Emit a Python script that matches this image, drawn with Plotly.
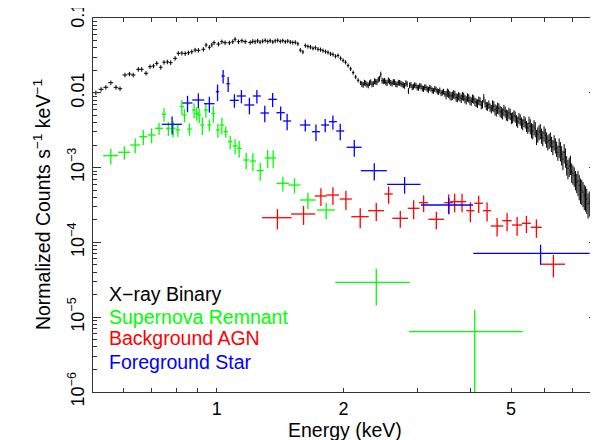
import numpy as np
import plotly.graph_objects as go

# X-ray Binary (black): bin centres in keV and normalized counts s^-1 keV^-1
xrb_energy = [
    0.516, 0.531, 0.545, 0.560, 0.576, 0.589, 0.605, 0.620, 0.633, 0.651,
    0.663, 0.679, 0.694, 0.707, 0.720, 0.736, 0.749, 0.763, 0.777, 0.796,
    0.810, 0.826, 0.841, 0.856, 0.872, 0.888, 0.904, 0.929, 0.943, 0.960,
    0.973, 0.985, 1.009, 1.028, 1.046, 1.071, 1.091, 1.105, 1.126, 1.147,
    1.168,
    1.200, 1.217, 1.233, 1.250, 1.267, 1.285, 1.303, 1.321, 1.339, 1.358,
    1.376, 1.395, 1.415, 1.434, 1.454, 1.474, 1.495, 1.515, 1.536, 1.558,
    1.579, 1.601, 1.623, 1.646, 1.669, 1.692, 1.715, 1.739, 1.763, 1.787,
    1.812, 1.837, 1.863, 1.888, 1.914, 1.941, 1.968, 1.995, 2.022, 2.050,
    2.079, 2.108, 2.137, 2.166, 2.196, 2.227, 2.258, 2.289, 2.321, 2.353,
    2.385, 2.418, 2.452, 2.486, 2.520, 2.555, 2.590, 2.626, 2.662, 2.699,
    2.737, 2.774, 2.813, 2.852, 2.891, 2.931, 2.972, 3.013, 3.055, 3.097,
    3.140, 3.183, 3.227, 3.272, 3.317, 3.363, 3.410, 3.457, 3.505, 3.553,
    3.602, 3.652, 3.703, 3.754, 3.806, 3.858, 3.912, 3.966, 4.021, 4.076,
    4.133, 4.190, 4.248, 4.307, 4.367, 4.427, 4.488, 4.550, 4.613, 4.677,
    4.742, 4.808, 4.874, 4.942, 5.010, 5.079, 5.150, 5.221, 5.293, 5.366,
    5.441, 5.516, 5.592, 5.669, 5.748, 5.827, 5.908, 5.989, 6.072, 6.156,
    6.241, 6.328, 6.415, 6.504, 6.594, 6.685, 6.778, 6.871, 6.966, 7.063,
    7.160, 7.259, 7.360, 7.462, 7.565, 7.669, 7.775, 7.883, 7.992,
]
xrb_counts = [
    0.01003, 0.01114, 0.01184, 0.01365, 0.01184, 0.01135, 0.01730, 0.01783, 0.01730, 0.0206,
    0.0206, 0.01824, 0.02234, 0.02281, 0.02477, 0.02191, 0.02559, 0.0259, 0.0253, 0.02890,
    0.03373, 0.0339, 0.0335, 0.03437, 0.03541, 0.03733, 0.0370, 0.03819, 0.04356, 0.04057,
    0.0436, 0.04677, 0.04488, 0.04819, 0.0468, 0.0466, 0.0482, 0.05188, 0.0482, 0.04977,
    0.0482,
    0.0470, 0.0488, 0.0481, 0.0495, 0.0476, 0.0490, 0.0502, 0.0485, 0.0497, 0.0479,
    0.0494, 0.0503, 0.0486, 0.0499, 0.0481, 0.0492, 0.0478, 0.0470, 0.0473, 0.0452,
    0.0372, 0.0352, 0.0428, 0.0416, 0.0409, 0.0394, 0.0401, 0.0383, 0.0378, 0.0366,
    0.0356, 0.0347, 0.0331, 0.0326, 0.0308, 0.0315, 0.0289, 0.0271, 0.0256, 0.0232,
    0.0209, 0.0186, 0.0163, 0.0147, 0.0136, 0.0128, 0.0134, 0.0126, 0.0139, 0.0132,
    0.0141, 0.0150, 0.0176, 0.0143, 0.0138, 0.0147, 0.0136, 0.0140, 0.0131, 0.0137,
    0.0133, 0.0127, 0.0135, 0.0106, 0.0128, 0.0121, 0.0125, 0.0117, 0.0122, 0.0113,
    0.0118, 0.0110, 0.0114, 0.0106, 0.0111, 0.0103, 0.0099, 0.0104, 0.0094, 0.0098,
    0.0090, 0.0096, 0.0087, 0.0091, 0.0084, 0.0089, 0.0080, 0.0085, 0.0077, 0.0082,
    0.0074, 0.0079, 0.0069, 0.0085, 0.0067, 0.0070, 0.0061, 0.0066, 0.0058, 0.0062,
    0.0055, 0.0059, 0.0051, 0.0054, 0.0046, 0.0050, 0.0043, 0.0046, 0.0040, 0.0042,
    0.0036, 0.0039, 0.0032, 0.0035, 0.0026, 0.0030, 0.0027, 0.0029, 0.0024, 0.0023,
    0.0021, 0.0022, 0.0018, 0.0019, 0.0015, 0.0016, 0.00110, 0.00105, 0.00088, 0.00078,
    0.00064, 0.00058, 0.00050, 0.00043, 0.00038, 0.00035, 0.00030, 0.00026, 0.00027,
]
# extra black bins between the ones above, where the spectrum is a dense band (2.2-8 keV)
xrb_energy_fine = [
    2.211, 2.242, 2.273, 2.305, 2.337, 2.369, 2.401, 2.435, 2.469, 2.503,
    2.537, 2.572, 2.608, 2.644, 2.680, 2.718, 2.755, 2.793, 2.832, 2.871,
    2.911, 2.951, 2.992, 3.034, 3.076, 3.118, 3.161, 3.205, 3.249, 3.294,
    3.340, 3.386, 3.433, 3.481, 3.529, 3.577, 3.627, 3.677, 3.728, 3.780,
    3.832, 3.885, 3.939, 3.993, 4.048, 4.104, 4.161, 4.219, 4.277, 4.337,
    4.397, 4.457, 4.519, 4.581, 4.645, 4.709, 4.775, 4.841, 4.908, 4.976,
    5.044, 5.114, 5.185, 5.257, 5.329, 5.403, 5.478, 5.554, 5.630, 5.708,
    5.787, 5.867, 5.948, 6.030, 6.114, 6.198, 6.284, 6.371, 6.459, 6.549,
    6.639, 6.731, 6.824, 6.918, 7.014, 7.111, 7.209, 7.309, 7.411, 7.513,
    7.617, 7.722, 7.829, 7.937,
]
xrb_counts_fine = [
    0.0131, 0.0137, 0.0129, 0.0135, 0.0130, 0.0143, 0.0139, 0.0155, 0.0146, 0.0145,
    0.0135, 0.0142, 0.0133, 0.0139, 0.0129, 0.0136, 0.0130, 0.0124, 0.0131, 0.0126,
    0.0119, 0.0127, 0.0118, 0.0124, 0.0115, 0.0119, 0.0112, 0.0117, 0.0108, 0.0113,
    0.0105, 0.0108, 0.0101, 0.0097, 0.0101, 0.0093, 0.0092, 0.0094, 0.0086, 0.0088,
    0.0091, 0.0083, 0.0087, 0.0079, 0.0084, 0.0076, 0.0072, 0.0077, 0.0071, 0.0073,
    0.0066, 0.0064, 0.0068, 0.0060, 0.0063, 0.0057, 0.0053, 0.0056, 0.0050, 0.0052,
    0.0047, 0.0048, 0.0041, 0.0044, 0.0038, 0.0040, 0.0034, 0.0036, 0.0031, 0.0033,
    0.0028, 0.0031, 0.0025, 0.0027, 0.0022, 0.0024, 0.0019, 0.0020, 0.0016, 0.0017,
    0.0013, 0.0014, 0.00098, 0.00112, 0.00083, 0.00070, 0.00066, 0.00052, 0.00047, 0.00041,
    0.00033, 0.00034, 0.00025, 0.00029,
]
# fractional error of the black spectrum, by energy band (upper edge keV, fraction)
xrb_err_bands = [(1.25, 0.07), (2.2, 0.065), (3.5, 0.09), (4.5, 0.13),
                 (5.5, 0.17), (6.5, 0.23), (7.2, 0.29), (8.1, 0.37)]

# Supernova Remnant (green)
snr_energy = [0.560, 0.603, 0.640, 0.669, 0.700, 0.729, 0.749, 0.767, 0.788, 0.808,
              0.826, 0.838, 0.861, 0.883, 0.896, 0.908, 0.924, 0.942, 0.960, 0.981,
              1.006, 1.028, 1.050, 1.076, 1.105, 1.130, 1.174, 1.218, 1.268, 1.321,
              1.361, 1.435, 1.529, 1.646, 1.819, 2.392, 4.098]
snr_energy_err = [0.0230, 0.0198, 0.0175, 0.0147, 0.0153, 0.0160, 0.0094, 0.0097, 0.0099, 0.0102,
                  0.0104, 0.0092, 0.0108, 0.0097, 0.0098, 0.0099, 0.0101, 0.0103, 0.0105, 0.0107,
                  0.0110, 0.0113, 0.0132, 0.0135, 0.0151, 0.0155, 0.0193, 0.0200, 0.0243, 0.0217,
                  0.0224, 0.0495, 0.0502, 0.0721, 0.0896, 0.480, 1.236]
snr_counts = [0.001443, 0.001603, 0.002004, 0.002589, 0.002729, 0.003352, 0.005158, 0.003352, 0.003352, 0.003186,
              0.006516, 0.005047, 0.003281, 0.005888, 0.005321, 0.005047, 0.003715, 0.005888, 0.003715, 0.005321,
              0.003186, 0.003715, 0.003020, 0.002219, 0.001945, 0.001812, 0.001264, 0.001225, 0.000914, 0.001343,
              0.001343, 0.000617, 0.000585, 0.000369, 0.000271, 2.93e-5, 6.4e-6]
snr_counts_err = [0.000339, 0.000327, 0.000453, 0.000585, 0.000617, 0.000610, 0.00105, 0.000714, 0.000804, 0.000605,
                  0.00147, 0.00103, 0.000623, 0.00133, 0.00109, 0.00114, 0.000984, 0.00120, 0.000658, 0.00133,
                  0.000679, 0.000929, 0.000535, 0.000453, 0.000440, 0.000453, 0.000316, 0.000331, 0.000247, 0.000363,
                  0.000363, 0.000139, 0.000132, 9.23e-5, 6.78e-5, 1.5e-5, 6.1e-6]

# Background AGN (red)
agn_energy = [1.393, 1.607, 1.767, 1.887, 2.026, 2.191, 2.392, 2.559, 2.728, 2.935,
              3.099, 3.322, 3.553, 3.672, 3.824, 4.002, 4.188, 4.385, 4.632, 4.892,
              5.168, 5.438, 5.743, 6.303]
agn_energy_err = [0.1121, 0.1056, 0.0580, 0.0651, 0.0666, 0.1044, 0.1048, 0.0588, 0.1165, 0.0932,
                  0.0764, 0.1419, 0.0836, 0.0864, 0.0900, 0.0876, 0.0986, 0.0960, 0.1598, 0.1259,
                  0.1415, 0.1340, 0.1729, 0.4141]
agn_counts = [0.0002139, 0.0002397, 0.0004173, 0.0004302, 0.0003803, 0.0002206, 0.0002654, 0.0004437, 0.0002100, 0.0002857,
              0.0003395, 0.0002036, 0.0003395, 0.0003501, 0.0003501, 0.0002654, 0.0003333, 0.0002654, 0.0001657, 0.0001951,
              0.0001708, 0.0001800, 0.0001591, 0.0000511]
agn_counts_err = [6.42e-5, 6.83e-5, 1.106e-4, 1.140e-4, 1.084e-4, 6.62e-5, 7.17e-5, 1.154e-4, 5.25e-5, 8.14e-5,
                  8.49e-5, 5.40e-5, 9.85e-5, 9.80e-5, 9.80e-5, 7.96e-5, 8.67e-5, 7.56e-5, 4.56e-5, 5.37e-5,
                  4.78e-5, 4.68e-5, 4.38e-5, 1.69e-5]

# Foreground Star (blue)
star_energy = [0.783, 0.852, 0.904, 0.960, 1.004, 1.035, 1.064, 1.101, 1.144, 1.195,
               1.245, 1.300, 1.357, 1.418, 1.469, 1.622, 1.720, 1.809, 1.887, 1.964,
               2.121, 2.366, 2.793, 3.558, 5.876]
star_energy_err = [0.0429, 0.0233, 0.0297, 0.0279, 0.0093, 0.0096, 0.0099, 0.0271, 0.0282, 0.0327,
                   0.0273, 0.0306, 0.0312, 0.0326, 0.0322, 0.0471, 0.0377, 0.0396, 0.0413, 0.0430,
                   0.0871, 0.168, 0.255, 0.503, 1.81]
star_counts = [0.003793, 0.007305, 0.008011, 0.007150, 0.01034, 0.01678, 0.01323, 0.007937, 0.009063, 0.006869,
               0.009063, 0.005369, 0.008185, 0.005420, 0.004198, 0.003711, 0.003020, 0.003711, 0.004108, 0.003086,
               0.001868, 0.000909, 0.000598, 0.000316, 7.15e-5]
star_counts_err = [0.00102, 0.00183, 0.00181, 0.00172, 0.00259, 0.00342, 0.00299, 0.00162, 0.00185, 0.00172,
                   0.00185, 0.00134, 0.00174, 0.00115, 0.00105, 0.000675, 0.000755, 0.000742, 0.000875, 0.000772,
                   0.000467, 0.000236, 0.000150, 7.90e-5, 2.15e-5]

legend_names = ['X−ray Binary', 'Supernova Remnant', 'Background AGN', 'Foreground Star']
legend_colours = ['#000000', '#00ff00', '#ff0000', '#0000ff']

FONT = 'Liberation Sans, Arial, Helvetica, sans-serif'
AXIS_COLOUR = '#333333'


def band_error(energy, counts):
    # errore frazionario letto per bande di energia
    out = []
    for e, c in zip(energy, counts):
        frac = next(f for edge, f in xrb_err_bands if e <= edge)
        out.append(c * frac)
    return out


def add_spectrum(fig, energy, energy_err, counts, counts_err, colour, thickness):
    # solo barre d'errore (croci), marker invisibili
    fig.add_trace(go.Scatter(
        x=energy, y=counts, mode='markers',
        marker=dict(size=2, color=colour, opacity=0),
        error_x=dict(type='data', array=energy_err, symmetric=True,
                     width=0, thickness=thickness, color=colour),
        error_y=dict(type='data', array=counts_err, symmetric=True,
                     width=0, thickness=thickness, color=colour),
        showlegend=False, hoverinfo='skip'))


fig = go.Figure()

# unione dei bin neri e ordinamento per energia
xrb_e = np.array(xrb_energy + xrb_energy_fine)
xrb_c = np.array(xrb_counts + xrb_counts_fine)
order = np.argsort(xrb_e)
xrb_e, xrb_c = xrb_e[order], xrb_c[order]
xrb_e_err = np.gradient(xrb_e) / 2

add_spectrum(fig, xrb_e, xrb_e_err, xrb_c, band_error(xrb_e, xrb_c), legend_colours[0], 1)
add_spectrum(fig, snr_energy, snr_energy_err, snr_counts, snr_counts_err, legend_colours[1], 1.3)
add_spectrum(fig, agn_energy, agn_energy_err, agn_counts, agn_counts_err, legend_colours[2], 1.3)
add_spectrum(fig, star_energy, star_energy_err, star_counts, star_counts_err, legend_colours[3], 1.3)

x_range = [np.log10(0.508), np.log10(8.0)]
y_major = [1e-6, 1e-5, 1e-4, 1e-3, 0.01, 0.1]
y_labels = ['10<sup>−6</sup>', '10<sup>−5</sup>', '10<sup>−4</sup>', '10<sup>−3</sup>', '0.01', '0.1']
y_minor = [k * 10.0 ** p for p in range(-6, -1) for k in range(2, 10)]

# la pagina ha un margine di 8 px: figura più piccola e margini compensati
fig.update_layout(
    template='none',
    width=590, height=432,
    margin=dict(l=85, r=1, t=10, b=48, autoexpand=False),
    paper_bgcolor='white', plot_bgcolor='white',
    font=dict(family=FONT, size=18, color='black'),
    showlegend=False,
    xaxis=dict(
        type='log', range=x_range, automargin=False,
        tickvals=[1, 2, 5], ticktext=['1', '2', '5'],
        ticks='inside', ticklen=4, tickwidth=1, tickcolor=AXIS_COLOUR,
        minor=dict(tickvals=[0.6, 0.7, 0.8, 0.9, 3, 4, 6, 7], ticks='inside',
                   ticklen=4, tickwidth=1, tickcolor=AXIS_COLOUR, showgrid=False),
        showline=True, linecolor=AXIS_COLOUR, linewidth=1, mirror='allticks',
        showgrid=False, zeroline=False, tickfont=dict(size=18),
    ),
    # asse sovrapposto solo per il tick lungo a 1 keV
    xaxis2=dict(
        type='log', range=x_range, overlaying='x', anchor='y', side='bottom', automargin=False,
        tickvals=[1], ticks='inside', ticklen=8, tickwidth=1, tickcolor=AXIS_COLOUR,
        showticklabels=False, showline=False, mirror='ticks', showgrid=False, zeroline=False,
    ),
    yaxis=dict(
        type='log', range=[-6, -1], automargin=False,
        tickvals=y_major, ticktext=y_labels, tickangle=-90,
        ticklabelstandoff=1, ticklabeloverflow='allow',
        ticks='inside', ticklen=8, tickwidth=1, tickcolor=AXIS_COLOUR,
        minor=dict(tickvals=y_minor, ticks='inside', ticklen=4, tickwidth=1,
                   tickcolor=AXIS_COLOUR, showgrid=False),
        showline=True, linecolor=AXIS_COLOUR, linewidth=1, mirror='allticks',
        showgrid=False, zeroline=False, tickfont=dict(size=18),
    ),
)

# titoli degli assi
fig.add_annotation(text='Normalized Counts s<sup>−1</sup> keV<sup>−1</sup>', textangle=-90,
                   xref='paper', yref='paper', x=-0.101, y=0.5,
                   xanchor='center', yanchor='middle', showarrow=False, font=dict(size=19.5))
fig.add_annotation(text='Energy (keV)', xref='paper', yref='paper', x=0.5, y=-0.1016,
                   xanchor='center', yanchor='middle', showarrow=False, font=dict(size=19.5))

# legenda come testo colorato
legend_y = [0.262, 0.2013, 0.1436, 0.081]
for name, colour, ly in zip(legend_names, legend_colours, legend_y):
    fig.add_annotation(text=name, xref='paper', yref='paper', x=0.0284, y=ly,
                       xanchor='left', yanchor='middle', showarrow=False,
                       font=dict(size=19.5, color=colour))

fig.write_html("out.html")
